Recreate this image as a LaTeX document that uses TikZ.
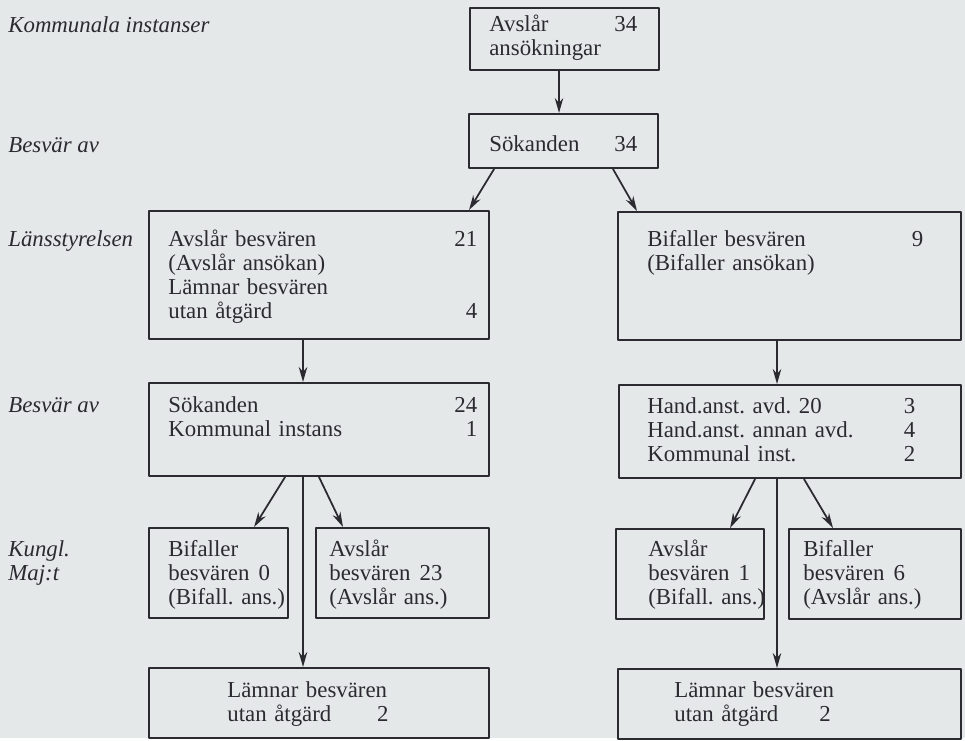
\documentclass[tikz,border=0pt]{standalone}
\usepackage{fontspec}
\setmainfont{Liberation Serif}
\usetikzlibrary{arrows.meta}
\definecolor{paper}{RGB}{229,232,232}
\definecolor{ink}{RGB}{42,42,48}
\frenchspacing
\begin{document}
\begin{tikzpicture}[x=0.02cm,y=-0.02cm,line join=round,line cap=round,
		>={Stealth[length=0.3cm,width=0.17cm]},color=ink,
		font=\fontsize{13}{13.6}\selectfont,
		box/.style={draw,line width=1.2pt,rectangle,anchor=north west,inner sep=0pt},
		txt/.style={anchor=base west,align=left,inner sep=0pt},
		lbl/.style={txt,font=\fontsize{13}{13.6}\selectfont\itshape},
		arr/.style={->,line width=1pt}]
	\fill[paper] (0,0) rectangle (965,738);
	% row labels
	\node[lbl] (lkomm) at (8,33) {Kommunala instanser};
	\node[lbl] (lbesv1) at (8,153) {Besvär av};
	\node[lbl] (llans) at (8,247) {Länsstyrelsen};
	\node[lbl] (lbesv2) at (8,413) {Besvär av};
	\node[lbl,text width=2cm] (lkungl) at (8,557) {Kungl.\\Maj:t};
	% boxes
	\node[box,minimum width=3.78cm,minimum height=1.24cm] (top) at (469,7) {};
	\node[box,minimum width=3.78cm,minimum height=1.08cm] (sok) at (468,113) {};
	\node[box,minimum width=6.8cm,minimum height=2.56cm] (lansL) at (148,210) {};
	\node[box,minimum width=6.86cm,minimum height=2.56cm] (lansR) at (617,211) {};
	\node[box,minimum width=6.8cm,minimum height=1.86cm] (besvL) at (148,382) {};
	\node[box,minimum width=6.84cm,minimum height=1.86cm] (besvR) at (618,384) {};
	\node[box,minimum width=2.78cm,minimum height=1.8cm] (kungLL) at (148,527) {};
	\node[box,minimum width=3.46cm,minimum height=1.8cm] (kungLR) at (315,527) {};
	\node[box,minimum width=2.96cm,minimum height=1.8cm] (kungRL) at (615,528) {};
	\node[box,minimum width=3.44cm,minimum height=1.8cm] (kungRR) at (788,528) {};
	\node[box,minimum width=6.8cm,minimum height=1.4cm] (lamL) at (148,667) {};
	\node[box,minimum width=6.86cm,minimum height=1.4cm] (lamR) at (617,668) {};
	% box texts
	\node[txt,text width=2.96cm] (top-t) at (489,32) {Avslår\hfill 34\\ansökningar};
	\node[txt,text width=2.96cm] (sok-t) at (489,152) {Sökanden\hfill 34};
	\node[txt,text width=6.18cm] (lansL-t) at (168,247) {Avslår besvären\hfill 21\\(Avslår ansökan)\\Lämnar besvären\\utan åtgärd\hfill 4};
	\node[txt,text width=5.52cm] (lansR-t) at (647,247) {Bifaller besvären\hfill 9\\(Bifaller ansökan)};
	\node[txt,text width=6.18cm] (besvL-t) at (168,413) {Sökanden\hfill 24\\Kommunal instans\hfill 1};
	\node[txt,text width=5.36cm] (besvR-t) at (647,414) {Hand.anst. avd. 20\hfill 3\\Hand.anst. annan avd.\hfill 4\\Kommunal inst.\hfill 2};
	\node[txt,text width=3cm] (kungLL-t) at (168,557) {Bifaller\\besvären\hspace{0.4em}0\\(Bifall. ans.)};
	\node[txt,text width=3cm] (kungLR-t) at (329,557) {Avslår\\besvären\hspace{0.4em}23\\(Avslår ans.)};
	\node[txt,text width=3cm] (kungRL-t) at (648,557) {Avslår\\besvären\hspace{0.4em}1\\(Bifall. ans.)};
	\node[txt,text width=3cm] (kungRR-t) at (803,557) {Bifaller\\besvären\hspace{0.4em}6\\(Avslår ans.)};
	\node[txt,text width=4cm] (lamL-t) at (227,698) {Lämnar besvären\\utan åtgärd\qquad 2};
	\node[txt,text width=4cm] (lamR-t) at (674,698) {Lämnar besvären\\utan åtgärd\hspace{1.8em}2};
	% connectors
	\draw[arr] ([xshift=-0.11cm]top.south) -- ([xshift=-0.11cm]top.south |- sok.north);
	\draw[arr] ([xshift=-1.39cm]sok.south) -- ([xshift=-0.42cm]lansL.north east);
	\draw[arr] ([xshift=0.99cm]sok.south) -- ([xshift=0.4cm]lansR.north west);
	\draw[arr] ([xshift=-0.32cm]lansL.south) -- ([xshift=-0.32cm]lansL.south |- besvL.north);
	\draw[arr] ([xshift=-0.25cm]lansR.south) -- ([xshift=-0.25cm]lansR.south |- besvR.north);
	\draw[arr] ([xshift=-0.68cm]besvL.south) -- ([xshift=-0.7cm]kungLL.north east);
	\draw[arr] (besvL.south) -- ([xshift=0.56cm]kungLR.north west);
	\draw[arr] ([xshift=-0.32cm]besvL.south) -- ([xshift=-0.32cm]besvL.south |- lamL.north);
	\draw[arr] ([xshift=-0.7cm]besvR.south) -- ([xshift=-0.7cm]kungRL.north east);
	\draw[arr] ([xshift=0.28cm]besvR.south) -- ([xshift=0.9cm]kungRR.north west);
	\draw[arr] ([xshift=-0.26cm]besvR.south) -- ([xshift=-0.26cm]besvR.south |- lamR.north);
\end{tikzpicture}
\end{document}
